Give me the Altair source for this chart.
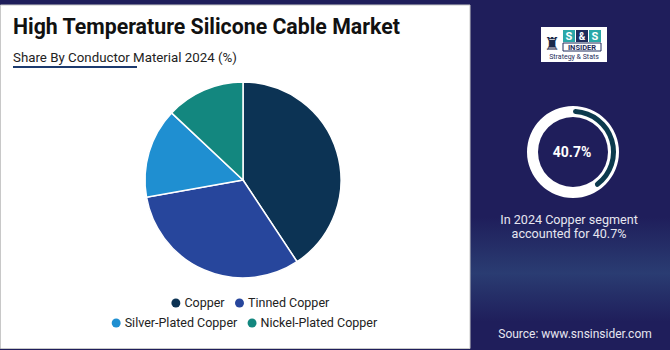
import altair as alt
import pandas as pd

# ---- data ----
categories = ["Copper", "Tinned Copper", "Silver-Plated Copper", "Nickel-Plated Copper"]
shares = [40.7, 31.5, 14.8, 13.0]
colors = ["#0c3354", "#27469c", "#1f8fd1", "#13877f"]

title_text = "High Temperature Silicone Cable Market"
subtitle_text = "Share By Conductor Material 2024 (%)"
highlight_text = "40.7%"
caption_lines = ["In 2024 Copper segment", "accounted for 40.7%"]
source_text = "Source: www.snsinsider.com"

W, H = 670, 350
NAVY = "#1f1e5b"
FONT = "Roboto"

pie_df = pd.DataFrame({"category": categories, "share": shares, "idx": range(len(categories))})
one = alt.Data(values=[{"a": 1}])

def rect(x, x2, y, y2, **kw):
    return alt.Chart(one).mark_rect(**kw).encode(
        x=alt.value(x), x2=alt.value(x2), y=alt.value(y), y2=alt.value(y2))

def text(t, x, y, **kw):
    return alt.Chart(one).mark_text(font=FONT, **kw).encode(
        x=alt.value(x), y=alt.value(y), text=alt.value(t))

# right panel gradient band
band = rect(470, W, 0, H, color=alt.Gradient(
    gradient="linear", x1=0, x2=0, y1=0, y2=1,
    stops=[alt.GradientStop(offset=0, color=NAVY),
           alt.GradientStop(offset=0.62, color=NAVY),
           alt.GradientStop(offset=0.78, color="#2a3c72"),
           alt.GradientStop(offset=0.92, color=NAVY),
           alt.GradientStop(offset=1, color=NAVY)]))

white_panel = rect(0.5, 470, 5, 348.5, color="white", stroke="#c8c8c8", strokeWidth=1)

title = text(title_text, 13, 34, fontSize=21.3, fontWeight="bold", color="#111111",
             align="left", baseline="alphabetic")
subtitle = text(subtitle_text, 13, 62, fontSize=13.3, color="#222222",
                align="left", baseline="alphabetic")
underline = rect(13, 137, 66, 68, color="#1c3a6e")

color_scale = alt.Scale(domain=categories, range=colors)

pie = alt.Chart(pie_df).mark_arc(stroke="white", strokeWidth=1.5).encode(
    theta=alt.Theta("share:Q", stack=True),
    order=alt.Order("idx:Q"),
    color=alt.Color("category:N", scale=color_scale, legend=None),
    x=alt.value(243), y=alt.value(180), radius=alt.value(98),
)

# legend (two centered rows), text widths estimated from Roboto glyph widths
GLYPH = {"C": .63, "o": .55, "p": .56, "e": .53, "r": .34, "T": .6, "i": .24, "n": .55,
         "d": .56, " ": .25, "S": .59, "l": .24, "v": .48, "-": .28, "P": .63, "a": .54,
         "t": .33, "N": .7, "c": .52, "k": .5}
LEG_FS = 12.5

def tw(s):
    return sum(GLYPH.get(ch, .55) for ch in s) * LEG_FS

rows = [[0, 1], [2, 3]]
row_centers = [250, 244]
leg_rows = []
for r, members in enumerate(rows):
    widths = [tw(categories[i]) for i in members]
    total = sum(w + 13 for w in widths) + 11 * (len(members) - 1)
    cx = row_centers[r] - total / 2
    for i, w in zip(members, widths):
        leg_rows.append({"category": categories[i], "dx": cx + 4.5, "tx": cx + 13,
                         "ty": 303 + r * 20})
        cx += w + 13 + 11
leg_df = pd.DataFrame(leg_rows)
leg_dots = alt.Chart(leg_df).mark_point(filled=True, size=80, opacity=1).encode(
    x=alt.X("dx:Q", scale=None), y=alt.Y("ty:Q", scale=None),
    color=alt.Color("category:N", scale=color_scale, legend=None))
leg_text = alt.Chart(leg_df).mark_text(font=FONT, fontSize=LEG_FS, align="left",
                                       baseline="middle", color="#222222").encode(
    x=alt.X("tx:Q", scale=None), y=alt.Y("ty:Q", scale=None), text="category:N")

# logo
logo_bg = rect(541, 607, 27, 62, color="white")
logo_icon = text("♜", 552, 45, fontSize=18, color="#1b2a4a", align="center", baseline="middle")
logo_s1 = rect(563, 575, 30, 42, color="#2aa7a8")
logo_amp = rect(576, 588, 30, 42, color="#1f2d5c")
logo_s2 = rect(589, 601, 30, 42, color="#2aa7a8")
logo_t1 = text("S", 569, 36.5, fontSize=11, fontWeight="bold", color="white", align="center", baseline="middle")
logo_t2 = text("&", 582, 36.5, fontSize=10, fontWeight="bold", color="white", align="center", baseline="middle")
logo_t3 = text("S", 595, 36.5, fontSize=11, fontWeight="bold", color="white", align="center", baseline="middle")
logo_ins_box = rect(563, 601, 43, 51, color="white", stroke="#1f2d5c", strokeWidth=1)
logo_ins = text("INSIDER", 582, 47.5, fontSize=7.5, fontWeight="bold", color="#1f2d5c", align="center", baseline="middle")
logo_tag = text("Strategy & Stats", 574, 57, fontSize=7, color="#1f2d5c", align="center", baseline="middle")

# ring
ring = alt.Chart(one).mark_arc(color="white", theta=0, theta2=6.2832).encode(
    x=alt.value(573), y=alt.value(152), radius=alt.value(46), radius2=alt.value(35))
ring_df = pd.DataFrame({"share": [shares[0]]})
ring_arc = alt.Chart(ring_df).mark_arc(color="#0c3a4d", cornerRadius=2.5).encode(
    theta=alt.value(0), theta2=alt.value(shares[0] / 100 * 6.283185),
    x=alt.value(573), y=alt.value(152), radius=alt.value(43), radius2=alt.value(38))

center_txt = text(highlight_text, 572, 153, fontSize=14, fontWeight="bold", color="white",
                  align="center", baseline="middle")
cap1 = text(caption_lines[0], 569, 220, fontSize=12.6, color="#e6e6f0", align="center", baseline="middle")
cap2 = text(caption_lines[1], 569, 234, fontSize=12.6, color="#e6e6f0", align="center", baseline="middle")
src = text(source_text, 575, 334, fontSize=12, color="#e6e6f0", align="center", baseline="middle")

chart = alt.layer(
    band, white_panel, title, subtitle, underline, pie, leg_dots, leg_text,
    logo_bg, logo_icon, logo_s1, logo_amp, logo_s2, logo_t1, logo_t2, logo_t3,
    logo_ins_box, logo_ins, logo_tag, ring, ring_arc, center_txt, cap1, cap2, src,
).properties(width=W, height=H, padding=0, autosize="none", background=NAVY
).configure_view(strokeWidth=0)

chart.save("out.html", embed_options={"renderer": "svg", "actions": False})
